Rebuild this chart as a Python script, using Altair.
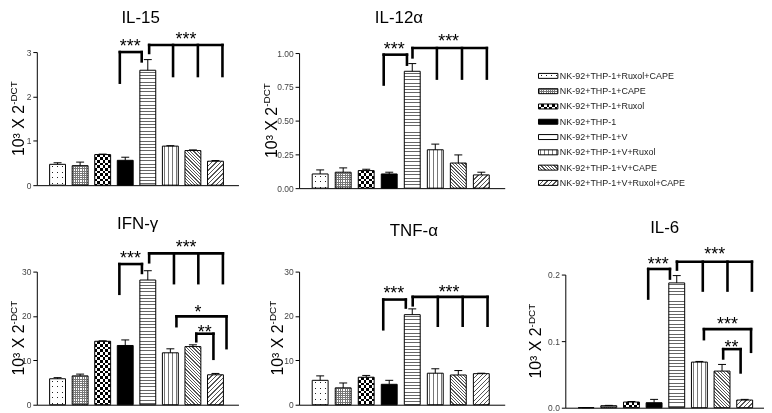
import math
import altair as alt
import pandas as pd

FONT = "Liberation Sans"

# ---------------- data ----------------
CATEGORIES = [
    "NK-92+THP-1+Ruxol+CAPE",
    "NK-92+THP-1+CAPE",
    "NK-92+THP-1+Ruxol",
    "NK-92+THP-1",
    "NK-92+THP-1+V",
    "NK-92+THP-1+V+Ruxol",
    "NK-92+THP-1+V+CAPE",
    "NK-92+THP-1+V+Ruxol+CAPE",
]

IL15_MEAN = [0.47, 0.44, 0.69, 0.56, 2.59, 0.88, 0.78, 0.54]
IL15_SEM = [0.035, 0.08, 0.01, 0.07, 0.24, 0.01, 0.015, 0.015]
IL12_MEAN = [0.105, 0.118, 0.13, 0.105, 0.865, 0.284, 0.186, 0.098]
IL12_SEM = [0.03, 0.032, 0.01, 0.013, 0.057, 0.042, 0.06, 0.02]
IFNG_MEAN = [5.85, 6.5, 14.3, 13.35, 28.1, 11.7, 13.1, 6.75]
IFNG_SEM = [0.25, 0.4, 0.1, 1.25, 2.1, 0.9, 0.4, 0.3]
TNFA_MEAN = [5.5, 3.8, 6.2, 4.6, 20.3, 7.1, 6.7, 7.0]
TNFA_SEM = [1.0, 1.1, 0.4, 0.9, 1.3, 1.0, 1.0, 0.1]
IL6_MEAN = [0.0, 0.003, 0.0085, 0.0075, 0.1875, 0.0685, 0.055, 0.0115]
IL6_SEM = [0.0, 0.0005, 0.0008, 0.005, 0.011, 0.001, 0.01, 0.001]

# significance brackets: (leg positions, leg bottoms, top, stars, star x, star y)
IL15_BRACKETS = [
    ([3.76, 4.73], [2.31, 2.79], 3.0, "***", 4.22, 3.24),
    ([5.06, 6.12, 7.22, 8.31], [2.98, 2.46, 2.46, 2.46], 3.16, "***", 6.69, 3.39),
]
IL12_BRACKETS = [
    ([3.76, 4.77], [0.767, 0.914], 0.988, "***", 4.22, 1.06),
    ([5.01, 6.07, 7.16, 8.24], [0.968, 0.811, 0.811, 0.811], 1.037, "***", 6.58, 1.12),
]
IFNG_BRACKETS = [
    ([3.74, 4.74], [25.0, 29.7], 31.7, "***", 4.23, 34.1),
    ([5.06, 6.16, 7.24, 8.33], [32.1, 27.4, 27.4, 27.4], 34.1, "***", 6.7, 36.6),
    ([6.27, 8.49], [17.7, 12.75], 19.9, "*", 7.22, 21.8),
    ([7.15, 7.91], [14.3, 10.35], 16.0, "**", 7.52, 17.3),
]
TNFA_BRACKETS = [
    ([3.74, 4.72], [17.0, 21.9], 23.7, "***", 4.2, 26.1),
    ([5.02, 6.11, 7.19, 8.27], [22.4, 17.8, 17.8, 17.8], 24.3, "***", 6.6, 26.5),
]
IL6_BRACKETS = [
    ([3.74, 4.7], [0.164, 0.194], 0.2084, "***", 4.18, 0.223),
    ([5.01, 6.15, 7.24, 8.32], [0.2075, 0.176, 0.176, 0.176], 0.2194, "***", 6.68, 0.237),
    ([6.2, 8.28], [0.103, 0.084], 0.118, "***", 7.24, 0.132),
    ([7.05, 7.82], [0.074, 0.053], 0.088, "**", 7.42, 0.098),
]

# ---------------- styling helpers ----------------
BAR_W = 16
BAR_KINDS = ["dots", "grid", "checker", "solid", "hstripes", "vstripes", "back", "fwd"]
LEGEND_KINDS = ["dots", "grid", "checker", "solid", "white", "vstripes", "back", "fwd"]


def stripe_stops(length, period, lw, fg, bg, start):
    pts = [(0.0, bg)]
    p = start
    while p < length:
        a = max(p, 0.0) / length
        b = min(p + lw, length) / length
        pts += [(a, bg), (a, fg), (b, fg), (b, bg)]
        p += period
    pts.append((1.0, bg))
    return [{"offset": round(o, 4), "color": c} for o, c in pts]


def lin(stops, x1, y1, x2, y2):
    return {"gradient": "linear", "x1": round(x1, 4), "y1": round(y1, 4),
            "x2": round(x2, 4), "y2": round(y2, 4), "stops": stops}


def pattern(kind, w, h):
    if kind == "solid":
        return [("black", None)]
    if kind == "white" or h < 0.8:
        return [("white", None)]
    if kind == "dots":
        return [(lin(stripe_stops(w, 5.0, 1.0, "#222", "white", 2.5), 0, 0, 1, 0), None),
                (lin(stripe_stops(h, 5.5, 1.0, "#222", "white", 2.0), 0, 0, 0, 1), "lighten")]
    if kind == "grid":
        return [(lin(stripe_stops(w, 2.2, 1.0, "#777", "white", 0.6), 0, 0, 1, 0), None),
                (lin(stripe_stops(h, 2.2, 1.0, "#777", "white", 0.6), 0, 0, 0, 1), "darken")]
    if kind == "checker":
        c = 2.7
        return [(lin(stripe_stops(w, 2 * c, c, "black", "white", 0.0), 0, 0, 1, 0), None),
                (lin(stripe_stops(h, 2 * c, c, "white", "black", 0.0), 0, 0, 0, 1), "difference")]
    if kind == "hstripes":
        return [(lin(stripe_stops(h, 3.3, 1.0, "#666", "white", 1.5), 0, 0, 0, 1), None)]
    if kind == "vstripes":
        return [(lin(stripe_stops(w, 4.0, 1.0, "#777", "white", 2.0), 0, 0, 1, 0), None)]
    k = (w + h) / (w * w + h * h)
    L = (w + h) / math.sqrt(2)
    if kind == "back":
        st = stripe_stops(L, 2.3, 0.9, "#555", "white", 0.0)
        return [(lin(st, 0, 1, k * w, 1 - k * h), None)]
    st = stripe_stops(L, 3.2, 1.0, "#555", "white", 0.0)
    return [(lin(st, 0, 0, k * w, k * h), None)]


ONE = alt.Data(values=[{"k": 0}])


def panel(title, means, sems, brackets, D, ticks, fmt, W, H, rtop, xmax, tx, ty, yt):
    df = pd.DataFrame({"idx": list(range(1, 9)), "cat": CATEGORIES,
                       "value": means, "sem": sems})
    df["top"] = df["value"] + df["sem"]
    pxu = (H - rtop) / D

    xs = alt.Scale(domain=[0.3, xmax], nice=False, zero=False)
    ys = alt.Scale(domain=[0, D], range=[H, rtop], nice=False)
    xaxis = alt.Axis(labels=False, ticks=False, title=None, grid=False,
                     domainColor="black", domainWidth=1)
    yaxis = alt.Axis(values=ticks, format=fmt, title=None, grid=False,
                     domainColor="black", domainWidth=1, tickColor="black",
                     tickSize=4, tickWidth=1, labelFontSize=8.5, labelColor="#444",
                     labelFont=FONT, labelPadding=2)

    def X(f="idx"):
        return alt.X(f"{f}:Q", scale=xs, axis=xaxis)

    def Y(f):
        return alt.Y(f"{f}:Q", scale=ys, axis=yaxis)

    layers = []
    for i, kind in enumerate(BAR_KINDS):
        h = means[i] * pxu
        for fill, blend in pattern(kind, BAR_W, h):
            mk = dict(orient="vertical", size=BAR_W, strokeWidth=0, fill=fill)
            if blend:
                mk["blend"] = blend
            layers.append(
                alt.Chart().mark_bar(**mk)
                .encode(x=X(), y=Y("value"))
                .transform_filter(alt.datum.idx == i + 1)
            )
    layers.append(
        alt.Chart().mark_bar(orient="vertical", size=BAR_W, fillOpacity=0,
                             stroke="black", strokeWidth=1)
        .encode(x=X(), y=Y("value"))
    )
    layers.append(
        alt.Chart().mark_rule(color="black", strokeWidth=1)
        .encode(x=X(), y=Y("value"), y2="top:Q")
    )
    layers.append(
        alt.Chart().mark_tick(orient="horizontal", size=8, thickness=1,
                              color="black", opacity=1)
        .encode(x=X(), y=Y("top"))
    )

    seg, stars = [], []
    for legs, bottoms, top, s, sx, sy in brackets:
        seg.append({"x": min(legs), "x2": max(legs), "y": top, "y2": top})
        for lx, lb in zip(legs, bottoms):
            seg.append({"x": lx, "x2": lx, "y": lb, "y2": top})
        stars.append({"x": sx, "y": sy, "t": s})
    layers.append(
        alt.Chart(pd.DataFrame(seg)).mark_rule(color="black", strokeWidth=2.6,
                                               strokeCap="square")
        .encode(x=X("x"), x2="x2:Q", y=Y("y"), y2="y2:Q")
    )
    layers.append(
        alt.Chart(pd.DataFrame(stars)).mark_text(fontSize=18, font=FONT,
                                                 baseline="alphabetic", dy=10.5,
                                                 color="black")
        .encode(x=X("x"), y=Y("y"), text="t:N")
    )

    yc = (rtop + H) / 2.0
    anchor = yc - 13.85
    layers.append(
        alt.Chart(ONE).mark_text(text="10³ X 2", angle=270, align="right",
                                 baseline="alphabetic", fontSize=16, font=FONT,
                                 color="black")
        .encode(x=alt.value(yt), y=alt.value(anchor))
    )
    layers.append(
        alt.Chart(ONE).mark_text(text="-DCT", angle=270, align="left",
                                 baseline="alphabetic", fontSize=10, font=FONT,
                                 dy=-7, color="black")
        .encode(x=alt.value(yt), y=alt.value(anchor))
    )
    layers.append(
        alt.Chart(ONE).mark_text(text=title, fontSize=17, font=FONT,
                                 align="center", baseline="alphabetic",
                                 color="black")
        .encode(x=alt.value(W / 2.0 + tx), y=alt.value(ty))
    )
    return alt.layer(*layers, data=df).properties(width=W, height=H)


def legend_panel(W, H):
    ldf = pd.DataFrame({"cat": CATEGORIES})
    step = 15.39
    r0 = 21.5
    r1 = r0 + step * (8 - 0.675)
    bandw = step * (1 - 0.675)
    ys = alt.Scale(type="band", domain=CATEGORIES, range=[r0, r1],
                   paddingInner=0.675, paddingOuter=0)
    Yl = alt.Y("cat:N", scale=ys, axis=None)
    x0, x1 = -27, -7.5
    layers = []
    for c, kind in zip(CATEGORIES, LEGEND_KINDS):
        for fill, blend in pattern(kind, x1 - x0, bandw):
            mk = dict(strokeWidth=0, fill=fill)
            if blend:
                mk["blend"] = blend
            layers.append(
                alt.Chart().mark_rect(**mk)
                .encode(y=Yl, x=alt.value(x0), x2=alt.value(x1))
                .transform_filter(alt.datum.cat == c)
            )
    layers.append(
        alt.Chart().mark_rect(fillOpacity=0, stroke="black", strokeWidth=1)
        .encode(y=Yl, x=alt.value(x0), x2=alt.value(x1))
    )
    layers.append(
        alt.Chart().mark_text(align="left", baseline="middle", fontSize=9,
                              font=FONT, color="#222")
        .encode(y=Yl, x=alt.value(-5.5), text="cat:N")
    )
    return alt.layer(*layers, data=ldf).properties(width=W, height=H)


p1 = panel("IL-15", IL15_MEAN, IL15_SEM, IL15_BRACKETS, 3, [0, 1, 2, 3], "d",
           203, 134, 0, 8.8, 3, -29, -13)
p2 = panel("IL-12α", IL12_MEAN, IL12_SEM, IL12_BRACKETS, 1,
           [0, 0.25, 0.5, 0.75, 1], ".2f", 207, 137, 1, 8.8, -3, -29, -22)
leg = legend_panel(200, 137)
p4 = panel("IFN-γ", IFNG_MEAN, IFNG_SEM, IFNG_BRACKETS, 30, [0, 10, 20, 30], "d",
           203, 134, 0, 8.8, 0, -43, -13)
p5 = panel("TNF-α", TNFA_MEAN, TNFA_SEM, TNFA_BRACKETS, 30, [0, 10, 20, 30], "d",
           207, 134, 0, 8.8, 12, -36, -16)
p6 = panel("IL-6", IL6_MEAN, IL6_SEM, IL6_BRACKETS, 0.2, [0, 0.1, 0.2], ".1f",
           200, 137, 3, 0.3 + 200 / 24.0, 0, -39, -24)

chart = (
    alt.concat(p1, p2, leg, p4, p5, p6, columns=3,
               spacing={"row": 84, "column": 61}, bounds="flush")
    .properties(padding=0)
    .configure_view(strokeWidth=0)
)

chart.save("out.html", embed_options={"renderer": "svg", "actions": False})
